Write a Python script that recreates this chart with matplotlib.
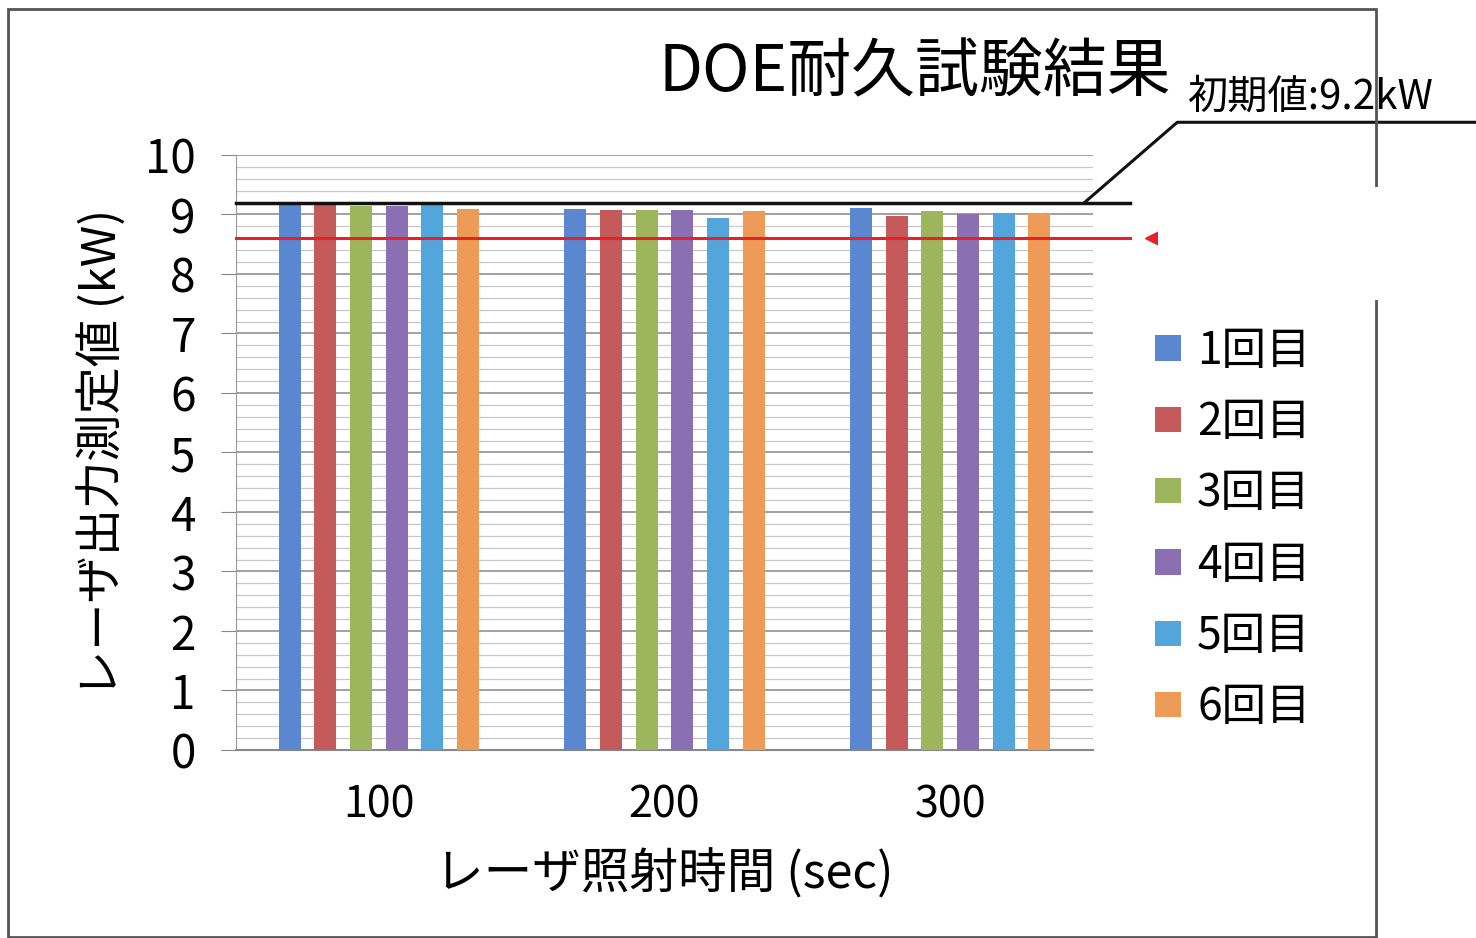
import matplotlib
matplotlib.use("Agg")
import matplotlib.pyplot as plt
from matplotlib.patches import Rectangle
import numpy as np

plt.rcParams['font.family'] = ['Noto Sans CJK JP', 'DejaVu Sans']

# data
times = ["100", "200", "300"]
runs = ["1回目", "2回目", "3回目", "4回目", "5回目", "6回目"]
run1 = [9.18, 9.10, 9.11]
run2 = [9.18, 9.08, 8.98]
run3 = [9.15, 9.08, 9.06]
run4 = [9.15, 9.08, 9.01]
run5 = [9.18, 8.94, 9.02]
run6 = [9.09, 9.06, 9.02]
initial_value = 9.2
limit_value = 8.6

colors = ['#5A87CF', '#C45A5A', '#9DB65E', '#8A70B3', '#52A6DC', '#EE9B58']

fig = plt.figure(figsize=(14.76, 9.38), dpi=100)
ax = fig.add_axes([236 / 1476, 1 - 750 / 938, (1093 - 236) / 1476, (750 - 155) / 938])

x = np.arange(len(times))
step = 0.125
width = 0.077
series = [run1, run2, run3, run4, run5, run6]
handles = []
for i, vals in enumerate(series):
    b = ax.bar(x + (i - 2.5) * step, vals, width, color=colors[i], label=runs[i], zorder=3)
    handles.append(b)

ax.set_xlim(-0.5, 2.5)
ax.set_ylim(0, 10)
ax.set_yticks(np.arange(0, 11, 1))
ax.set_yticks(np.arange(0, 10.01, 0.2), minor=True)
ax.grid(True, which='major', axis='y', color='#9a9a9a', lw=1.3, zorder=0)
ax.grid(True, which='minor', axis='y', color='#c8c8c8', lw=0.9, zorder=0)
ax.set_xticks(x)
ax.set_xticklabels(times, fontsize=31)
ax.tick_params(axis='x', length=0, pad=24)
ax.tick_params(axis='y', which='major', length=11, color='#888888', labelsize=33, pad=18)
ax.tick_params(axis='y', which='minor', length=0)

for s in ['top', 'right']:
    ax.spines[s].set_visible(False)
ax.spines['left'].set_color('#999999')
ax.spines['bottom'].set_color('#888888')
ax.spines['bottom'].set_linewidth(1.5)

ax.set_xlabel("レーザ照射時間 (sec)", fontsize=35, labelpad=16)
ax.set_ylabel("レーザ出力測定値 (kW)", fontsize=34, labelpad=12)

# reference lines
ax.plot([-0.5, 2.63], [initial_value, initial_value], color='#111111', lw=2.5, clip_on=False, zorder=4)
ax.plot([-0.5, 2.63], [limit_value, limit_value], color='#e8202a', lw=2.2, clip_on=False, zorder=4)
ax.plot([2.71], [limit_value], marker='<', color='#e8202a', ms=11, clip_on=False, zorder=4)

# leader to the initial value note
ax.plot([2.47, 2.795, 3.9], [initial_value, 10.55, 10.55], color='#111111', lw=2.2, clip_on=False, zorder=4)
fig.text(1188 / 1476, 1 - 97 / 938, "初期値:9.2kW", fontsize=29, ha='left', va='center')

fig.text(915 / 1476, 1 - 73 / 938, "DOE耐久試験結果", fontsize=46, ha='center', va='center')

fig.legend(handles=handles, loc='upper left', bbox_to_anchor=(1137 / 1476, 1 - 310 / 938),
           frameon=False, fontsize=32, handlelength=0.6, handleheight=0.5,
           handletextpad=0.35, labelspacing=0.57, borderaxespad=0)

# outer frame of the scanned chart
fig.add_artist(Rectangle((8 / 1476, 1 / 938), (1376 - 8) / 1476, (928) / 938,
                         transform=fig.transFigure, fill=False, edgecolor='#555555', lw=2, zorder=5))
# blank patch on the right edge
fig.add_artist(Rectangle((1158 / 1476, 1 - 300 / 938), 318 / 1476, 113 / 938,
                         transform=fig.transFigure, facecolor='white', edgecolor='none', zorder=10))

fig.savefig("out.png", dpi=100)
